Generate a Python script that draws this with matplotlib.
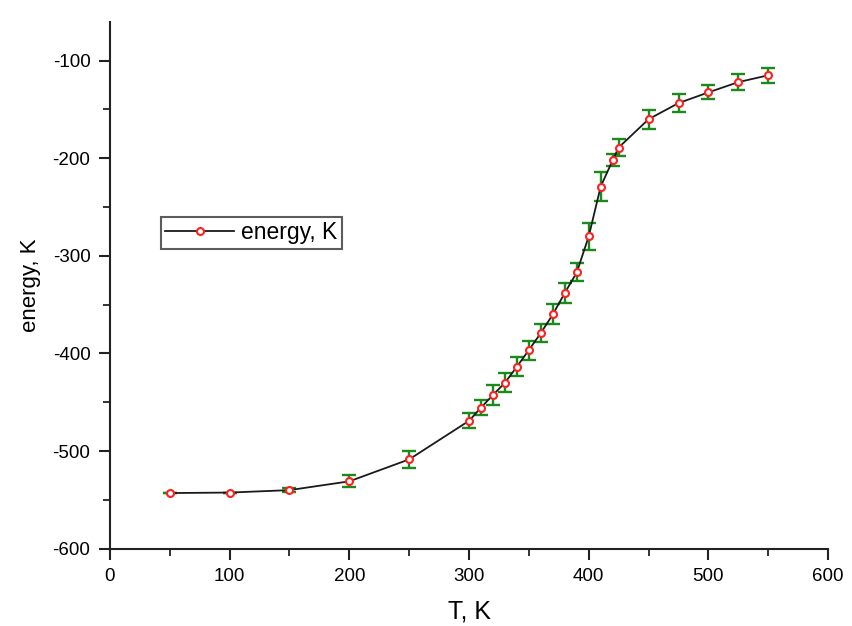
import matplotlib
matplotlib.use("Agg")
import matplotlib.pyplot as plt
from matplotlib.ticker import MultipleLocator

T = [50, 100, 150, 200, 250, 300, 310, 320, 330, 340, 350, 360, 370, 380, 390,
     400, 410, 420, 425, 450, 475, 500, 525, 550]
energy = [-543, -542.5, -540, -531, -508.5, -469, -455.5, -442.5, -430, -413.5,
          -396.5, -379, -360, -338, -317, -280, -229, -202, -189, -160, -143.5,
          -132.5, -122, -115]
err = [0, 0, 2, 6, 9, 7.5, 7.7, 10.5, 9.9, 9.4, 9.7, 9.5, 10.2, 10, 9.2,
       14, 14.9, 6, 8.9, 9.6, 9.2, 7.3, 8.5, 7.7]

plt.rcParams['font.family'] = ['Liberation Sans', 'DejaVu Sans']
plt.rcParams['axes.unicode_minus'] = False

fig = plt.figure(figsize=(8.52, 6.26), dpi=100)
ax = fig.add_axes([0.129, 0.1235, 0.843, 0.842])

ax.errorbar(T, energy, yerr=err, fmt='none', ecolor='#1a8a1a', elinewidth=1.7,
            capsize=5, capthick=1.7, zorder=2)
ax.plot(T, energy, color='#1a1a1a', lw=1.3, marker='o', markersize=5,
        markerfacecolor='white', markeredgecolor='#ff2020', markeredgewidth=1.5,
        label='energy, K', zorder=3)

ax.set_xlim(0, 600)
ax.set_ylim(-600, -60)
ax.xaxis.set_major_locator(MultipleLocator(100))
ax.xaxis.set_minor_locator(MultipleLocator(50))
ax.yaxis.set_major_locator(MultipleLocator(100))
ax.yaxis.set_minor_locator(MultipleLocator(50))

for s in ['top', 'right']:
    ax.spines[s].set_visible(False)
for s in ['left', 'bottom']:
    ax.spines[s].set_linewidth(1.5)
    ax.spines[s].set_color('#222222')

ax.tick_params(which='major', direction='out', length=8, width=1.5, labelsize=13.5,
               color='#222222', pad=6)
ax.tick_params(which='minor', direction='out', length=5, width=1.3, color='#222222')

ax.set_xlabel('T, K', fontsize=18, labelpad=10)
ax.set_ylabel('energy, K', fontsize=16, labelpad=8)

leg = ax.legend(loc='upper left', bbox_to_anchor=(0.071, 0.63), fontsize=16.5,
                frameon=True, fancybox=False, handlelength=3.0, borderpad=0.2,
                handletextpad=0.3, borderaxespad=0)
leg.get_frame().set_edgecolor('#333333')
leg.get_frame().set_linewidth(1.5)

fig.savefig('out.png', dpi=100)
